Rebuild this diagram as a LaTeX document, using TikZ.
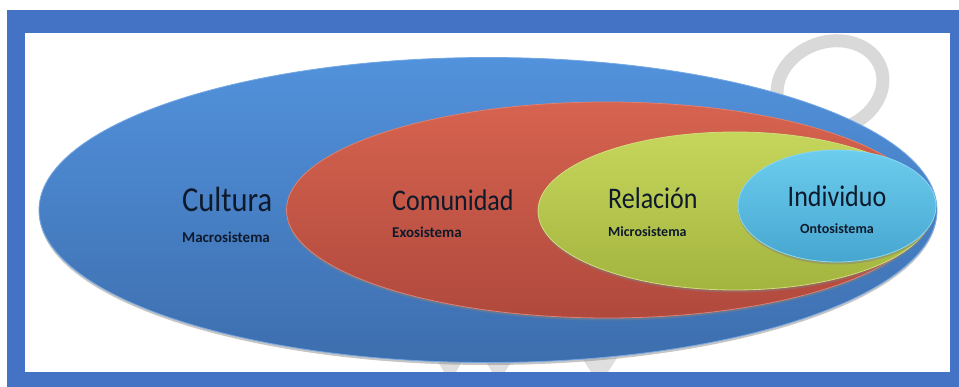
\documentclass[tikz,border=0pt]{standalone}
\usepackage{fontspec}
\setmainfont{Carlito}
\usepackage{graphicx}
\usetikzlibrary{shapes.geometric,shadows}
\definecolor{frameblue}{HTML}{4472C4}
\definecolor{wmgray}{HTML}{D9D9D9}
\definecolor{bluetop}{HTML}{5292DC}
\definecolor{bluebot}{HTML}{3D6EAE}
\definecolor{redtop}{HTML}{D6634F}
\definecolor{redbot}{HTML}{B0493D}
\definecolor{greentop}{HTML}{C6D65C}
\definecolor{greenbot}{HTML}{A3B43F}
\definecolor{cyantop}{HTML}{6CCDEE}
\definecolor{cyanbot}{HTML}{47A6D0}
\definecolor{txtdark}{HTML}{0E1A2C}
\newcommand{\tallbox}[1]{\scalebox{1}[1.15]{#1}}

\begin{document}
\begin{tikzpicture}[x=1pt,y=-1pt,
  oval/.style n args={3}{ellipse, inner sep=0pt, draw=#1, line width=0.8pt,
    top color=#2, bottom color=#3,
    drop shadow={shadow xshift=0pt,shadow yshift=-2.5pt,opacity=0.45}},
  lbl/.style={font=\fontsize{#1}{#1}\selectfont, text=txtdark, inner sep=0pt, anchor=base west},
  sublbl/.style={font=\bfseries\fontsize{#1}{#1}\selectfont, text=txtdark, inner sep=0pt, anchor=base west}]
  \useasboundingbox (0,0) rectangle (959,387);
  \fill[frameblue] (7,10) rectangle (959,387);
  \fill[white] (25,33) rectangle (950,372);
  \begin{scope}
    \clip (25,33) rectangle (950,372);
    \draw[wmgray, line width=13, rotate around={20:(830,86)}] (830,86) ellipse [x radius=54, y radius=44];
    \fill[wmgray!85!white] (437,360) -- (463,360) -- (456,372) -- (444,372) -- cycle;
    \fill[wmgray!85!white] (485,360) -- (512,360) -- (505,372) -- (492,372) -- cycle;
    \fill[wmgray!85!white] (582,358) -- (617,358) -- (608,372) -- (591,372) -- cycle;
  \end{scope}
  \node[oval={bluetop!80!white}{bluetop}{bluebot}, minimum width=898, minimum height=305] (cultura) at (488,210) {};
  \node[oval={redtop!80!white}{redtop}{redbot}, minimum width=641, minimum height=216] (comunidad) at (607,210) {};
  \node[oval={greentop!80!white}{greentop}{greenbot}, minimum width=394, minimum height=158] (relacion) at (735,211) {};
  \node[oval={cyantop!80!white}{cyantop}{cyanbot}, minimum width=198, minimum height=112] (individuo) at (837,206) {};
  \node[lbl=30.5] (cultxt) at (182,212) {\tallbox{Cultura}};
  \node[sublbl=15] (macro) at (182,243) {Macrosistema};
  \node[lbl=26] (comtxt) at (392,211) {\tallbox{Comunidad}};
  \node[sublbl=15] (exo) at (392,238) {Exosistema};
  \node[lbl=26] (reltxt) at (608,209) {\tallbox{Relación}};
  \node[sublbl=14] (micro) at (608,237) {Microsistema};
  \node[lbl=26, anchor=base] (indtxt) at (837,207) {\tallbox{Individuo}};
  \node[sublbl=14, anchor=base] (onto) at (837,234) {Ontosistema};
\end{tikzpicture}
\end{document}
